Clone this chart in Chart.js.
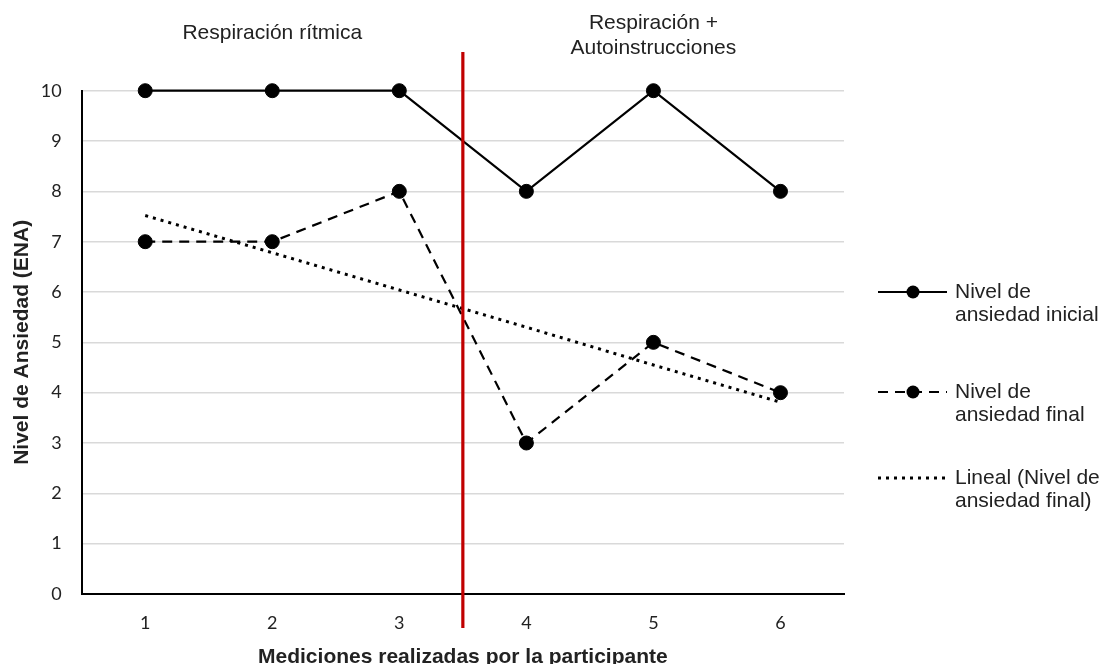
<!DOCTYPE html>
<html lang="es">
<head>
<meta charset="utf-8">
<title>Nivel de ansiedad por medición</title>
<script src="https://cdn.jsdelivr.net/npm/chart.js@4.4.1/dist/chart.umd.min.js"></script>
<style>
  html, body { margin: 0; padding: 0; background: #ffffff; }
  #wrap { width: 1102px; height: 664px; position: relative; }
</style>
</head>
<body>
<div id="wrap"><canvas id="chart" width="1102" height="664"></canvas></div>
<script>
// Mediciones realizadas por la participante
const measurements = ['1', '2', '3', '4', '5', '6'];

// Nivel de ansiedad (ENA) al inicio y al final de cada sesión
const initialLevel = [10, 10, 10, 8, 10, 8];
const finalLevel = [7, 7, 8, 3, 5, 4];

// Tendencia lineal del nivel final
const finalTrend = [7.52, 6.78, 6.04, 5.30, 4.55, 3.81];

// Fases de la intervención: nombre y mediciones incluidas (índices)
const phaseNames = [['Respiración rítmica'], ['Respiración +', 'Autoinstrucciones']];
const phaseRanges = [[0, 2], [3, 5]];

const legendLabels = [
  ['Nivel de', 'ansiedad inicial'],
  ['Nivel de', 'ansiedad final'],
  ['Lineal (Nivel de', 'ansiedad final)']
];

const TEXT_FONT = '"Liberation Sans", Arial, sans-serif';
const TICK_FONT = 'Lato, "Open Sans", sans-serif';
const TEXT_COLOR = '#222222';

// Línea roja que separa las fases, títulos de fase y leyenda
const phasePlugin = {
  id: 'phases',
  afterDatasetsDraw(chart) {
    const { ctx, scales: { x } } = chart;
    ctx.save();
    // separador entre la última medición de una fase y la primera de la siguiente
    for (let i = 0; i < phaseRanges.length - 1; i++) {
      const boundary = (phaseRanges[i][1] + phaseRanges[i + 1][0]) / 2;
      const px = x.getPixelForValue(boundary);
      ctx.strokeStyle = '#c00000';
      ctx.lineWidth = 3.2;
      ctx.beginPath();
      ctx.moveTo(px, 52);
      ctx.lineTo(px, 628);
      ctx.stroke();
    }
    // títulos de fase
    ctx.fillStyle = TEXT_COLOR;
    ctx.font = '21px ' + TEXT_FONT;
    ctx.textAlign = 'center';
    ctx.textBaseline = 'middle';
    phaseNames.forEach((lines, i) => {
      const center = x.getPixelForValue((phaseRanges[i][0] + phaseRanges[i][1]) / 2);
      if (lines.length === 1) {
        ctx.fillText(lines[0], center, 33);
      } else {
        lines.forEach((t, j) => ctx.fillText(t, center, 23.5 + j * 25));
      }
    });
    ctx.restore();
  },
  afterDraw(chart) {
    const { ctx } = chart;
    const rows = [292, 392, 478];
    const x0 = 878, x1 = 947, mx = 913, tx = 955;
    ctx.save();
    chart.data.datasets.forEach((ds, i) => {
      const y = rows[i];
      ctx.strokeStyle = ds.borderColor;
      ctx.lineWidth = ds.borderWidth;
      ctx.setLineDash(ds.borderDash || []);
      ctx.beginPath();
      ctx.moveTo(x0, y);
      ctx.lineTo(x1, y);
      ctx.stroke();
      ctx.setLineDash([]);
      if (ds.pointRadius > 0) {
        ctx.fillStyle = ds.pointBackgroundColor;
        ctx.beginPath();
        ctx.arc(mx, y, 6.5, 0, Math.PI * 2);
        ctx.fill();
      }
      ctx.fillStyle = TEXT_COLOR;
      ctx.font = '21px ' + TEXT_FONT;
      ctx.textAlign = 'left';
      ctx.textBaseline = 'middle';
      legendLabels[i].forEach((t, j) => ctx.fillText(t, tx, y + j * 23.5));
    });
    ctx.restore();
  }
};

new Chart(document.getElementById('chart'), {
  type: 'line',
  data: {
    labels: measurements,
    datasets: [
      {
        label: 'Nivel de ansiedad inicial',
        data: initialLevel,
        borderColor: '#000000',
        borderWidth: 2.2,
        pointRadius: 7,
        pointBackgroundColor: '#000000',
        pointBorderColor: '#000000',
        pointBorderWidth: 1,
        tension: 0,
        clip: false
      },
      {
        label: 'Nivel de ansiedad final',
        data: finalLevel,
        borderColor: '#000000',
        borderWidth: 2.2,
        borderDash: [10, 7],
        pointRadius: 7,
        pointBackgroundColor: '#000000',
        pointBorderColor: '#000000',
        pointBorderWidth: 1,
        tension: 0,
        clip: false
      },
      {
        label: 'Lineal (Nivel de ansiedad final)',
        data: finalTrend,
        borderColor: '#000000',
        borderWidth: 3,
        borderDash: [3, 5],
        pointRadius: 0,
        tension: 0,
        clip: false
      }
    ]
  },
  options: {
    responsive: false,
    animation: false,
    layout: { padding: { top: 90.7, right: 258, bottom: 0, left: 0 } },
    plugins: {
      legend: { display: false },
      tooltip: { enabled: false }
    },
    scales: {
      x: {
        offset: true,
        grid: { display: false, drawTicks: false },
        border: { display: true, color: '#000000', width: 2 },
        ticks: {
          padding: 18,
          color: TEXT_COLOR,
          font: { family: TICK_FONT, size: 18 }
        },
        title: {
          display: true,
          text: 'Mediciones realizadas por la participante',
          color: TEXT_COLOR,
          font: { family: TEXT_FONT, size: 21, weight: 'bold' },
          padding: { top: 0, bottom: -6 }
        },
        afterFit(scale) { scale.height = 70; }
      },
      y: {
        min: 0,
        max: 10,
        grid: { color: '#d9d9d9', lineWidth: 1.5, drawTicks: false },
        border: { display: true, color: '#000000', width: 2 },
        ticks: {
          stepSize: 1,
          padding: 20,
          color: TEXT_COLOR,
          font: { family: TICK_FONT, size: 18 }
        },
        title: {
          display: true,
          text: 'Nivel de Ansiedad (ENA)',
          color: TEXT_COLOR,
          font: { family: TEXT_FONT, size: 21, weight: 'bold' },
          padding: { top: 10, bottom: 0 }
        },
        afterFit(scale) { scale.width = 81.7; }
      }
    }
  },
  plugins: [phasePlugin]
});
</script>
</body>
</html>
